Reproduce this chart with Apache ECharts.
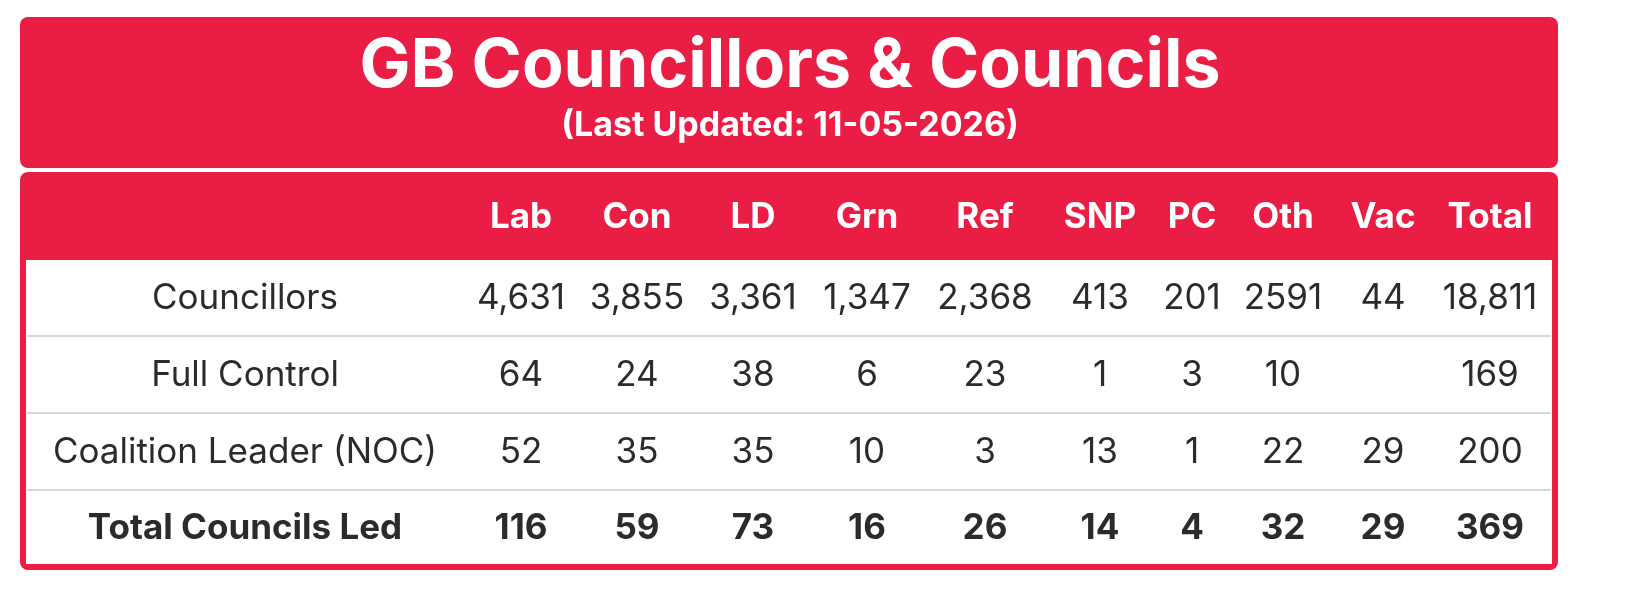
<!DOCTYPE html>
<html>
<head>
<meta charset="utf-8">
<script src="https://cdn.jsdelivr.net/npm/echarts@6/dist/echarts.min.js"></script>
<style>
  html, body { margin: 0; padding: 0; background: #ffffff; }
  #chart { width: 1631px; height: 600px; }
</style>
</head>
<body>
<div id="chart"></div>
<script>
// table data
const titleText = 'GB Councillors & Councils';
const subtitleText = '(Last Updated: 11-05-2026)';
const parties = ['Lab', 'Con', 'LD', 'Grn', 'Ref', 'SNP', 'PC', 'Oth', 'Vac', 'Total'];
const rowLabels = ['Councillors', 'Full Control', 'Coalition Leader (NOC)', 'Total Councils Led'];
const councillors = ['4,631', '3,855', '3,361', '1,347', '2,368', '413', '201', '2591', '44', '18,811'];
const fullControl = ['64', '24', '38', '6', '23', '1', '3', '10', '', '169'];
const coalitionLeader = ['52', '35', '35', '10', '3', '13', '1', '22', '29', '200'];
const totalLed = ['116', '59', '73', '16', '26', '14', '4', '32', '29', '369'];

// layout (pixel positions on a 1631 x 600 value grid)
const labelCenter = 245;
const colCenters = [521, 637, 753, 867, 985, 1100, 1192, 1283, 1383, 1490];
const headerY = 217;
const rowCenters = [298, 375, 452, 528];
const RED = '#ea1d44';
const TEXT = '#2b2b2b';
const FONT = 'Inter, "Open Sans", sans-serif';

const rows = [councillors, fullControl, coalitionLeader, totalLed];

const cellData = [];
rows.forEach((vals, r) => {
  cellData.push({ value: [labelCenter, rowCenters[r]], text: rowLabels[r], bold: r === 3 });
  vals.forEach((v, c) => {
    cellData.push({ value: [colCenters[c], rowCenters[r]], text: v, bold: r === 3 });
  });
});
const headerData = parties.map((p, c) => ({ value: [colCenters[c], headerY], text: p, bold: true }));

function toSeriesData(list, color) {
  return list.map(d => ({
    value: d.value,
    label: {
      formatter: d.text,
      fontWeight: d.bold ? 'bold' : 'normal',
      color: color,
      opacity: 1
    }
  }));
}

const chart = echarts.init(document.getElementById('chart'));

const sepLines = [336, 413, 490].map(y => ({
  type: 'line',
  shape: { x1: 27, y1: y, x2: 1551, y2: y },
  style: { stroke: '#d8d8d8', lineWidth: 2 },
  z: 1
}));

const labelBase = {
  show: true, position: 'inside', fontSize: 35, fontFamily: FONT, opacity: 1
};

chart.setOption({
  animation: false,
  grid: { left: 0, right: 0, top: 0, bottom: 0 },
  xAxis: { type: 'value', min: 0, max: 1631, show: false },
  yAxis: { type: 'value', min: 0, max: 600, inverse: true, show: false },
  graphic: [
    {
      type: 'rect',
      shape: { x: 20, y: 17, width: 1538, height: 151, r: 8 },
      style: { fill: RED },
      z: 0
    },
    {
      type: 'rect',
      shape: { x: 20, y: 172, width: 1538, height: 398, r: 8 },
      style: { fill: RED },
      z: 0
    },
    {
      type: 'rect',
      shape: { x: 26, y: 260, width: 1526, height: 304 },
      style: { fill: '#ffffff' },
      z: 0
    },
    ...sepLines,
    {
      type: 'text',
      x: 790, y: 67,
      style: {
        text: titleText, fill: '#ffffff', font: 'bold 68px ' + FONT,
        align: 'center', verticalAlign: 'middle'
      },
      z: 5
    },
    {
      type: 'text',
      x: 790, y: 126,
      style: {
        text: subtitleText, fill: '#ffffff', font: 'bold 34px ' + FONT,
        align: 'center', verticalAlign: 'middle'
      },
      z: 5
    }
  ],
  series: [
    {
      type: 'scatter',
      symbolSize: 0,
      itemStyle: { opacity: 1 },
      data: toSeriesData(headerData, '#ffffff'),
      label: labelBase,
      z: 5
    },
    {
      type: 'scatter',
      symbolSize: 0,
      itemStyle: { opacity: 1 },
      data: toSeriesData(cellData, TEXT),
      label: labelBase,
      z: 5
    }
  ]
});
</script>
</body>
</html>
